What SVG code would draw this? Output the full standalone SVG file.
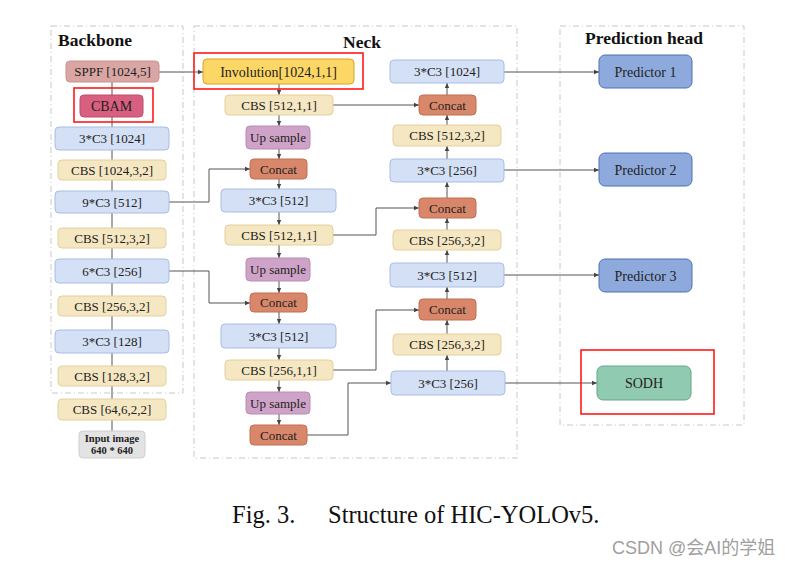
<svg xmlns="http://www.w3.org/2000/svg" width="794" height="568" viewBox="0 0 794 568">
<style>
.t{font-family:"Liberation Serif","Times New Roman",serif;font-size:13px;fill:#222;text-anchor:middle}
.t14{font-size:14px}
.h{font-family:"Liberation Serif","Times New Roman",serif;font-size:17.5px;font-weight:bold;fill:#111;text-anchor:middle}
.sec{fill:none;stroke:#c8c8c8;stroke-width:1;stroke-dasharray:6 3 1 3}
.cbs{fill:#f6e7c3;stroke:#e2d09c}
.c3{fill:#d4e0f5;stroke:#a8bde3}
.up{fill:#cfa3c8;stroke:#b98cb2}
.cat{fill:#d9876a;stroke:#c16e51}
.pred{fill:#8eaadd;stroke:#4d70b5}
.red{fill:none;stroke:#ff1a1a;stroke-width:1.6}
.ln{fill:none;stroke:#555;stroke-width:1}
.cap{font-family:"Liberation Serif","Times New Roman",serif;font-size:24.5px;fill:#111}
</style>
<defs>
<marker id="ah" markerWidth="6" markerHeight="6" refX="5" refY="3" orient="auto" markerUnits="userSpaceOnUse">
<path d="M0,0.8 L5,3 L0,5.2 Z" fill="#444"/>
</marker>
</defs>
<rect width="794" height="568" fill="#fff"/>
<g id="sections">
<rect class="sec" x="51" y="26" width="132" height="367"/>
<rect class="sec" x="194" y="26" width="323" height="432"/>
<rect class="sec" x="560" y="26" width="184" height="399"/>
<text class="h" x="95" y="46">Backbone</text>
<text class="h" x="362" y="48">Neck</text>
<text class="h" x="644" y="44">Prediction head</text>
</g>
<g id="connectors">
<path class="ln" d="M112 82V95M112 117V127M112 150V160M112 180V191M112 213V228M112 248V259M112 283V296M112 316V330M112 353V366M112 386V399M112 420V431"/>
<g marker-end="url(#ah)">
<path class="ln" d="M279 84V95"/>
<path class="ln" d="M279 115V126"/>
<path class="ln" d="M279 149V159"/>
<path class="ln" d="M279 179V189"/>
<path class="ln" d="M279 212V225"/>
<path class="ln" d="M279 245V258"/>
<path class="ln" d="M279 281V293"/>
<path class="ln" d="M279 312V324"/>
<path class="ln" d="M279 348V360"/>
<path class="ln" d="M279 380V392"/>
<path class="ln" d="M279 414V425"/>
<path class="ln" d="M447 371V355"/>
<path class="ln" d="M447 334V320"/>
<path class="ln" d="M447 299V287"/>
<path class="ln" d="M447 263V250"/>
<path class="ln" d="M447 230V218"/>
<path class="ln" d="M447 198V182"/>
<path class="ln" d="M447 159V146"/>
<path class="ln" d="M447 125V115"/>
<path class="ln" d="M447 95V83"/>
<path class="ln" d="M159 72H203"/>
<path class="ln" d="M169 202H209V169H250"/>
<path class="ln" d="M169 271H209V303H250"/>
<path class="ln" d="M333 105H419"/>
<path class="ln" d="M333 235H376V208H419"/>
<path class="ln" d="M333 370H376V310H419"/>
<path class="ln" d="M307 435H348V383H391"/>
<path class="ln" d="M504 72H599"/>
<path class="ln" d="M504 170H599"/>
<path class="ln" d="M504 275H599"/>
<path class="ln" d="M505 383H597"/>
</g>
</g>
<g id="sppf"><rect x="66" y="61" width="93" height="21" rx="4" fill="#d9a6a4" stroke="#c99190"/><text class="t" x="112.5" y="76">SPPF [1024,5]</text></g>
<g id="cbam"><rect x="80" y="95" width="63" height="22" rx="4" fill="#d95f80" stroke="#bf4b6b"/><text class="t t14" x="111.5" y="111">CBAM</text><rect class="red" x="74" y="88" width="79" height="34"/></g>
<g id="b-c3-1024"><rect class="c3" x="55" y="127" width="114" height="23" rx="4"/><text class="t" x="112" y="143">3*C3 [1024]</text></g>
<g id="b-cbs-1024"><rect class="cbs" x="58" y="160" width="108" height="20" rx="4"/><text class="t" x="112" y="174.5">CBS [1024,3,2]</text></g>
<g id="b-c3-512"><rect class="c3" x="55" y="191" width="114" height="22" rx="4"/><text class="t" x="112" y="206.5">9*C3 [512]</text></g>
<g id="b-cbs-512"><rect class="cbs" x="58" y="228" width="108" height="20" rx="4"/><text class="t" x="112" y="242.5">CBS [512,3,2]</text></g>
<g id="b-c3-256"><rect class="c3" x="55" y="259" width="114" height="24" rx="4"/><text class="t" x="112" y="275.5">6*C3 [256]</text></g>
<g id="b-cbs-256"><rect class="cbs" x="58" y="296" width="108" height="20" rx="4"/><text class="t" x="112" y="310.5">CBS [256,3,2]</text></g>
<g id="b-c3-128"><rect class="c3" x="55" y="330" width="114" height="23" rx="4"/><text class="t" x="112" y="346">3*C3 [128]</text></g>
<g id="b-cbs-128"><rect class="cbs" x="58" y="366" width="108" height="20" rx="4"/><text class="t" x="112" y="380.5">CBS [128,3,2]</text></g>
<g id="b-cbs-64"><rect class="cbs" x="58" y="399" width="108" height="21" rx="4"/><text class="t" x="112" y="414">CBS [64,6,2,2]</text></g>
<g id="input"><rect x="79" y="431" width="66" height="27" rx="4" fill="#e3e3e3" stroke="#cfcfcf"/><text class="t" style="font-size:10.5px;font-weight:bold" x="112" y="442">Input image</text><text class="t" style="font-size:10.5px;font-weight:bold" x="112" y="454">640 * 640</text></g>
<g id="involution"><rect x="203" y="59" width="151" height="25" rx="4" fill="#fdd766" stroke="#d8a421"/><text class="t t14" x="278.5" y="76.5">Involution[1024,1,1]</text><rect class="red" x="194" y="53" width="169" height="36"/></g>
<g id="n-cbs-512a"><rect class="cbs" x="225" y="95" width="108" height="20" rx="4"/><text class="t" x="279" y="109.5">CBS [512,1,1]</text></g>
<g id="n-up-a"><rect class="up" x="246" y="126" width="64" height="23" rx="4"/><text class="t" x="278" y="142">Up sample</text></g>
<g id="n-cat-a"><rect class="cat" x="250" y="159" width="57" height="20" rx="4"/><text class="t" x="278.5" y="173.5">Concat</text></g>
<g id="n-c3-512a"><rect class="c3" x="221" y="189" width="115" height="23" rx="4"/><text class="t" x="278.5" y="205">3*C3 [512]</text></g>
<g id="n-cbs-512b"><rect class="cbs" x="225" y="225" width="108" height="20" rx="4"/><text class="t" x="279" y="239.5">CBS [512,1,1]</text></g>
<g id="n-up-b"><rect class="up" x="246" y="258" width="64" height="23" rx="4"/><text class="t" x="278" y="274">Up sample</text></g>
<g id="n-cat-b"><rect class="cat" x="250" y="293" width="57" height="19" rx="4"/><text class="t" x="278.5" y="307">Concat</text></g>
<g id="n-c3-512b"><rect class="c3" x="221" y="324" width="115" height="24" rx="4"/><text class="t" x="278.5" y="340.5">3*C3 [512]</text></g>
<g id="n-cbs-256"><rect class="cbs" x="225" y="360" width="108" height="20" rx="4"/><text class="t" x="279" y="374.5">CBS [256,1,1]</text></g>
<g id="n-up-c"><rect class="up" x="246" y="392" width="64" height="22" rx="4"/><text class="t" x="278" y="407.5">Up sample</text></g>
<g id="n-cat-c"><rect class="cat" x="250" y="425" width="57" height="20" rx="4"/><text class="t" x="278.5" y="439.5">Concat</text></g>
<g id="p-c3-1024"><rect class="c3" x="390" y="60" width="114" height="23" rx="4"/><text class="t" x="447" y="76">3*C3 [1024]</text></g>
<g id="p-cat-d"><rect class="cat" x="419" y="95" width="57" height="20" rx="4"/><text class="t" x="447.5" y="109.5">Concat</text></g>
<g id="p-cbs-512"><rect class="cbs" x="393" y="125" width="108" height="21" rx="4"/><text class="t" x="447" y="140">CBS [512,3,2]</text></g>
<g id="p-c3-256a"><rect class="c3" x="390" y="159" width="114" height="23" rx="4"/><text class="t" x="447" y="175">3*C3 [256]</text></g>
<g id="p-cat-e"><rect class="cat" x="419" y="198" width="57" height="20" rx="4"/><text class="t" x="447.5" y="212.5">Concat</text></g>
<g id="p-cbs-256a"><rect class="cbs" x="393" y="230" width="108" height="20" rx="4"/><text class="t" x="447" y="244.5">CBS [256,3,2]</text></g>
<g id="p-c3-512"><rect class="c3" x="390" y="263" width="114" height="24" rx="4"/><text class="t" x="447" y="279.5">3*C3 [512]</text></g>
<g id="p-cat-f"><rect class="cat" x="419" y="299" width="57" height="21" rx="4"/><text class="t" x="447.5" y="314">Concat</text></g>
<g id="p-cbs-256b"><rect class="cbs" x="393" y="334" width="108" height="21" rx="4"/><text class="t" x="447" y="349">CBS [256,3,2]</text></g>
<g id="p-c3-256b"><rect class="c3" x="391" y="371" width="114" height="24" rx="4"/><text class="t" x="448" y="387.5">3*C3 [256]</text></g>
<g id="pred1"><rect class="pred" x="599" y="55" width="93" height="33" rx="6"/><text class="t t14" x="645.5" y="76.5">Predictor 1</text></g>
<g id="pred2"><rect class="pred" x="599" y="153" width="93" height="33" rx="6"/><text class="t t14" x="645.5" y="174.5">Predictor 2</text></g>
<g id="pred3"><rect class="pred" x="599" y="259" width="93" height="33" rx="6"/><text class="t t14" x="645.5" y="280.5">Predictor 3</text></g>
<g id="sodh"><rect x="597" y="366" width="94" height="34" rx="6" fill="#90cab0" stroke="#62a987"/><text class="t t14" x="644" y="388">SODH</text><rect class="red" x="581" y="350" width="133" height="64"/></g>
<g id="caption">
<text class="cap" x="232" y="523">Fig. 3.</text>
<text class="cap" x="328" y="523">Structure of HIC-YOLOv5.</text>
</g>
<text x="612" y="554" style="font-family:'Liberation Sans','Noto Sans CJK SC',sans-serif;font-size:18px;fill:#a0a0a0">CSDN @会AI的学姐</text>
</svg>
